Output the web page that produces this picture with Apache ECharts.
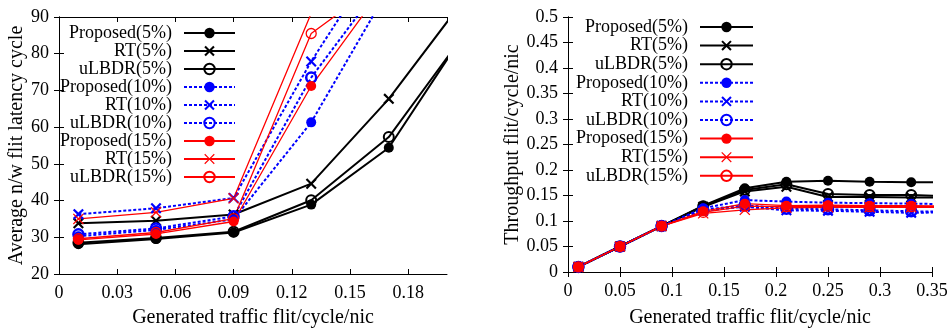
<!DOCTYPE html>
<html>
<head>
<meta charset="utf-8">
<script src="https://cdn.jsdelivr.net/npm/echarts@6/dist/echarts.min.js"></script>
<style>
	html, body { margin: 0; padding: 0; background: #fff; }
	#chart { width: 952px; height: 331px; }
</style>
</head>
<body>
<div id="chart"></div>
<script>
// series names (legend order)
const seriesNames = ['Proposed(5%)', 'RT(5%)', 'uLBDR(5%)', 'Proposed(10%)', 'RT(10%)', 'uLBDR(10%)', 'Proposed(15%)', 'RT(15%)', 'uLBDR(15%)']

// left: latency vs generated traffic
const latencyX = [0.01, 0.05, 0.09, 0.13, 0.17, 0.21]
const latProposed5 = [28.1, 29.5, 31.3, 38.9, 54.4, 86.4]
const latRT5 = [33.8, 34.5, 36.2, 44.6, 67.7, 95.6]
const latULBDR5 = [28.5, 29.8, 31.5, 40.1, 57.3, 86.1]
const latProposed10 = [30.3, 32.0, 34.9, 61.3, 97.7]
const latRT10 = [36.3, 37.9, 40.7, 77.9, 110.6]
const latULBDR10 = [30.8, 32.4, 35.7, 73.5, 101.7]
const latProposed15 = [29.3, 30.9, 34.3, 71.2, 100.1]
const latRT15 = [35.0, 36.8, 40.6, 91.0]
const latULBDR15 = [29.6, 31.3, 35.1, 85.5, 101.0]

// right: throughput vs generated traffic
const thrX = [0.01, 0.05, 0.09, 0.13, 0.17, 0.21, 0.25, 0.29, 0.33, 0.37]
const thrProposed5 = [0.01, 0.05, 0.09, 0.130, 0.164, 0.177, 0.179, 0.177, 0.176, 0.176]
const thrRT5 = [0.01, 0.05, 0.09, 0.128, 0.158, 0.167, 0.147, 0.147, 0.146, 0.146]
const thrULBDR5 = [0.01, 0.05, 0.09, 0.129, 0.161, 0.172, 0.153, 0.151, 0.151, 0.148]
const thrProposed10 = [0.01, 0.05, 0.09, 0.125, 0.141, 0.138, 0.136, 0.135, 0.134, 0.133]
const thrRT10 = [0.01, 0.05, 0.09, 0.120, 0.128, 0.121, 0.120, 0.118, 0.116, 0.117]
const thrULBDR10 = [0.01, 0.05, 0.09, 0.122, 0.131, 0.124, 0.123, 0.121, 0.119, 0.118]
const thrProposed15 = [0.01, 0.05, 0.09, 0.119, 0.134, 0.130, 0.131, 0.130, 0.130, 0.129]
const thrRT15 = [0.01, 0.05, 0.09, 0.115, 0.122, 0.126, 0.127, 0.127, 0.127, 0.127]
const thrULBDR15 = [0.01, 0.05, 0.09, 0.117, 0.129, 0.128, 0.129, 0.128, 0.128, 0.128]

const FONT = 'Liberation Serif'
const crossThick = 'path://M0,1.4L1.4,0L5,3.6L8.6,0L10,1.4L6.4,5L10,8.6L8.6,10L5,6.4L1.4,10L0,8.6L3.6,5Z'
const crossThin = 'path://M0,0.8L0.8,0L5,4.2L9.2,0L10,0.8L5.8,5L10,9.2L9.2,10L5,5.8L0.8,10L0,9.2L4.2,5Z'

// per-series look, same order as seriesNames (hollow = unfilled circle)
const looks = [
	{ color: '#000', width: 2, type: 'solid', symbol: 'circle', size: 10, border: 0 },
	{ color: '#000', width: 2, type: 'solid', symbol: crossThick, size: 11, border: 0 },
	{ color: '#000', width: 2, type: 'solid', symbol: 'circle', size: 10, border: 2, hollow: true },
	{ color: '#0000ff', width: 2, type: [3, 2], symbol: 'circle', size: 10, border: 0 },
	{ color: '#0000ff', width: 2, type: [3, 2], symbol: crossThick, size: 11, border: 0 },
	{ color: '#0000ff', width: 2, type: [3, 2], symbol: 'circle', size: 10, border: 2.5, hollow: true },
	{ color: '#ff0000', width: 1.3, type: 'solid', symbol: 'circle', size: 10, border: 0 },
	{ color: '#ff0000', width: 1.3, type: 'solid', symbol: crossThin, size: 11, border: 0 },
	{ color: '#ff0000', width: 1.3, type: 'solid', symbol: 'circle', size: 10, border: 1.3, hollow: true }
]

const zip = (xs, ys) => ys.map((y, i) => [xs[i], y])

const makeSeries = (idx, xs, ys, axisIndex) => {
	const lk = looks[idx]
	return {
		name: seriesNames[idx],
		type: 'line',
		xAxisIndex: axisIndex,
		yAxisIndex: axisIndex,
		data: zip(xs, ys),
		clip: true,
		symbol: lk.symbol,
		symbolSize: lk.size,
		showAllSymbol: true,
		animation: false,
		lineStyle: { color: lk.color, width: lk.width, type: lk.type },
		itemStyle: {
			color: lk.hollow ? 'rgba(255,255,255,0)' : lk.color,
			borderColor: lk.color,
			borderWidth: lk.border
		}
	}
}

const latData = [latProposed5, latRT5, latULBDR5, latProposed10, latRT10, latULBDR10, latProposed15, latRT15, latULBDR15]
const thrData = [thrProposed5, thrRT5, thrULBDR5, thrProposed10, thrRT10, thrULBDR10, thrProposed15, thrRT15, thrULBDR15]

const series = []
latData.forEach((ys, i) => series.push(makeSeries(i, latencyX, ys, 0)))
thrData.forEach((ys, i) => series.push(makeSeries(i, thrX, ys, 2)))

const labelStyle = { color: '#000', fontFamily: FONT, fontSize: 18 }
const nameStyle = { color: '#000', fontFamily: FONT, fontSize: 20 }
const lineBlack = { show: true, lineStyle: { color: '#000', width: 1 } }
const tickIn = { show: true, inside: true, length: 5, lineStyle: { color: '#000', width: 1 } }

// main axis + mirrored axis for the ticks on the other side
const valueAxis = (grid, min, max, interval, position, main, extra) => Object.assign({
	type: 'value',
	gridIndex: grid,
	min: min,
	max: max,
	interval: interval,
	position: position,
	axisLine: lineBlack,
	axisTick: tickIn,
	splitLine: { show: false },
	axisLabel: main ? Object.assign({ margin: 10 }, labelStyle) : { show: false },
	nameLocation: 'middle',
	nameTextStyle: nameStyle
}, extra || {})

const legendBase = {
	orient: 'vertical',
	align: 'right',
	padding: 0,
	itemHeight: 13,
	textStyle: { color: '#000', fontFamily: FONT, fontSize: 18, lineHeight: 18, padding: [0, 7, 0, 0] },
	data: seriesNames,
	selectedMode: false
}

const option = {
	animation: false,
	backgroundColor: '#fff',
	grid: [
		{ left: 59, right: 505, top: 17, bottom: 57, outerBoundsMode: 'none' },
		{ left: 568, right: 20, top: 17, bottom: 59, outerBoundsMode: 'none' }
	],
	legend: [
		Object.assign({}, legendBase, { right: 716, top: 24, itemWidth: 51, itemGap: 0 }),
		Object.assign({}, legendBase, { right: 198, top: 18, itemWidth: 53, itemGap: 0.6 })
	],
	xAxis: [
		valueAxis(0, 0, 0.2, 0.03, 'bottom', true, {
			name: 'Generated traffic flit/cycle/nic', nameGap: 34,
			axisLabel: Object.assign({ margin: 10, showMaxLabel: false }, labelStyle)
		}),
		valueAxis(0, 0, 0.2, 0.03, 'top', false),
		valueAxis(1, 0, 0.35, 0.05, 'bottom', true, { name: 'Generated traffic flit/cycle/nic', nameGap: 36 }),
		valueAxis(1, 0, 0.35, 0.05, 'top', false)
	],
	yAxis: [
		valueAxis(0, 20, 90, 10, 'left', true, { name: 'Average n/w flit latency cycle', nameGap: 32 }),
		valueAxis(0, 20, 90, 10, 'right', false),
		valueAxis(1, 0, 0.5, 0.05, 'left', true, { name: 'Throughput flit/cycle/nic', nameGap: 45 }),
		valueAxis(1, 0, 0.5, 0.05, 'right', false)
	],
	series: series
}

const chart = echarts.init(document.getElementById('chart'), null, { renderer: 'canvas' })
chart.setOption(option)
</script>
</body>
</html>
